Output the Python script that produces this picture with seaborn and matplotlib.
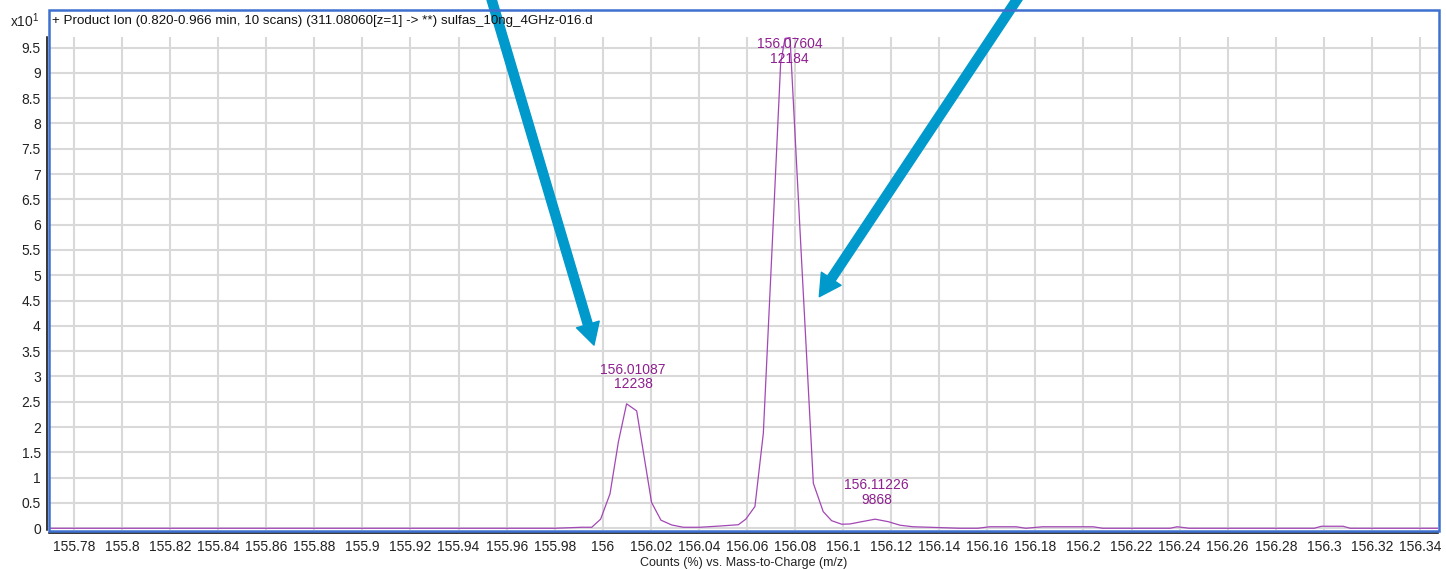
import numpy as np
import pandas as pd
import matplotlib
matplotlib.use("Agg")
import matplotlib.pyplot as plt
import matplotlib.patches as mpatches
import seaborn as sns

# ---------------- data ----------------
mz = [155.7696, 155.9800, 155.9912, 155.9954, 155.9991, 156.0030, 156.0065,
      156.0099, 156.0141, 156.0203, 156.0242, 156.0287, 156.0335, 156.0404,
      156.0488, 156.0564, 156.0595, 156.0633, 156.0668, 156.0704, 156.0740,
      156.0758, 156.0779, 156.0827, 156.0876, 156.0917, 156.0952, 156.0994,
      156.1028, 156.1077, 156.1133, 156.1188, 156.1237, 156.1291, 156.1361,
      156.1486, 156.1560, 156.1610, 156.1720, 156.1760, 156.1830, 156.2040,
      156.2080, 156.2360, 156.2390, 156.2440, 156.2960, 156.2990, 156.3080,
      156.3110, 156.3475]
intensity = [0.0, 0.0, 0.02, 0.02, 0.18, 0.68, 1.71,
             2.46, 2.32, 0.51, 0.16, 0.065, 0.02, 0.02,
             0.045, 0.07, 0.18, 0.43, 1.88, 5.5, 9.19,
             9.68, 9.70, 5.3, 0.89, 0.33, 0.15, 0.08,
             0.085, 0.13, 0.18, 0.13, 0.06, 0.03, 0.02,
             0.0, 0.0, 0.03, 0.03, 0.0, 0.03, 0.03,
             0.0, 0.0, 0.03, 0.0, 0.0, 0.04, 0.04,
             0.0, 0.0]
peak_mz = [156.01087, 156.07604, 156.11226]
peak_counts = [12238, 12184, 9868]
x_ticks = [155.78, 155.80, 155.82, 155.84, 155.86, 155.88, 155.90, 155.92,
           155.94, 155.96, 155.98, 156.00, 156.02, 156.04, 156.06, 156.08,
           156.10, 156.12, 156.14, 156.16, 156.18, 156.20, 156.22, 156.24,
           156.26, 156.28, 156.30, 156.32, 156.34]
y_ticks = [0, 0.5, 1, 1.5, 2, 2.5, 3, 3.5, 4, 4.5, 5, 5.5, 6, 6.5, 7, 7.5,
           8, 8.5, 9, 9.5]
title_text = "+ Product Ion (0.820-0.966 min, 10 scans) (311.08060[z=1] -> **) sulfas_10ng_4GHz-016.d"
x_label = "Counts (%) vs. Mass-to-Charge (m/z)"
scale_label = "x10$^{1}$"

# ---------------- style ----------------
sns.set_style("white")
plt.rcParams["font.family"] = ["Liberation Sans", "DejaVu Sans"]
plt.rcParams["mathtext.default"] = "regular"

LINE_C = "#A347B5"
TEXT_C = "#8E1F8F"
FRAME_C = "#3D70D0"
GRID_C = "#D9D9D9"
ARROW_C = "#0099CC"

W, H, DPI = 1446, 569, 100
fig = plt.figure(figsize=(W / DPI, H / DPI), dpi=DPI)
ax = fig.add_axes([49 / W, (H - 530) / H, 1389 / W, 493.3 / H])

df = pd.DataFrame({"mz": mz, "intensity": intensity})
sns.lineplot(data=df, x="mz", y="intensity", ax=ax, color=LINE_C,
             linewidth=0.9, estimator=None, zorder=3)

ax.set_xlim(155.7696, 156.34749)
ax.set_ylim(-0.034, 9.715)

ax.set_xticks(x_ticks)
ax.set_xticklabels([f"{v:g}" for v in np.round(x_ticks, 2)])
ax.set_yticks(y_ticks)
ax.set_yticklabels([f"{v:g}" for v in y_ticks])

ax.grid(True, color=GRID_C, linewidth=1.5, zorder=0)
ax.set_axisbelow(True)

for s in ["top", "right"]:
    ax.spines[s].set_visible(False)
for s in ["left", "bottom"]:
    ax.spines[s].set_visible(True)
    ax.spines[s].set_color("black")
    ax.spines[s].set_linewidth(1.1)
    ax.spines[s].set_position(("outward", 1.8))

ax.tick_params(axis="x", direction="out", length=3.6, width=0.9,
               colors="black", labelsize=10, pad=2, labelcolor="#222222")
ax.tick_params(axis="y", direction="out", length=3.6, width=0.9,
               colors="black", labelsize=10, pad=0.5, labelcolor="#222222")
ax.yaxis.get_major_ticks()[0].tick1line.set_color("#6A1470")

ax.set_xlabel(x_label, fontsize=9, labelpad=2, color="#222222")
ax.set_ylabel("")

# peak labels
ymax = ax.get_ylim()[1]
mz_arr = np.array(mz)
int_arr = np.array(intensity)
for pm, pc in zip(peak_mz, peak_counts):
    sel = np.abs(mz_arr - pm) < 0.005
    top = int_arr[sel].max()
    label = f"{pm:.5f}\n{pc}"
    if top > 0.85 * ymax:
        ax.annotate(label, xy=(pm, 1.0), xycoords=("data", "axes fraction"),
                    xytext=(3, -0.5), textcoords="offset points",
                    ha="center", va="top", color=TEXT_C, fontsize=10,
                    linespacing=1.05, zorder=4)
    else:
        ax.annotate(label, xy=(pm, top), xytext=(3, 9),
                    textcoords="offset points", ha="center", va="bottom",
                    color=TEXT_C, fontsize=10, linespacing=1.05, zorder=4)

# frame
frame = mpatches.Rectangle((48.8 / W, (H - 530.5) / H), (1439 - 48.8) / W,
                           (530.5 - 10) / H, transform=fig.transFigure,
                           fill=False, edgecolor=FRAME_C, linewidth=1.8,
                           zorder=5)
fig.patches.append(frame)

fig.text(52 / W, (H - 21) / H, title_text, fontsize=9.6, color="#111111",
         ha="left", va="center")
fig.text(10 / W, (H - 21) / H, scale_label, fontsize=10, color="#222222",
         ha="left", va="center")

# arrows
arrow_style = "simple,head_length=15.5,head_width=17,tail_width=6.5"
ax.annotate("", xy=(155.99634, 3.62), xytext=(155.95317, 10.54),
            arrowprops=dict(arrowstyle=arrow_style, color=ARROW_C,
                            shrinkA=0, shrinkB=0, mutation_scale=1),
            annotation_clip=False, zorder=10)
ax.annotate("", xy=(156.09008, 4.577), xytext=(156.17358, 10.54),
            arrowprops=dict(arrowstyle=arrow_style, color=ARROW_C,
                            shrinkA=0, shrinkB=0, mutation_scale=1),
            annotation_clip=False, zorder=10)

fig.savefig("out.png", dpi=DPI)
